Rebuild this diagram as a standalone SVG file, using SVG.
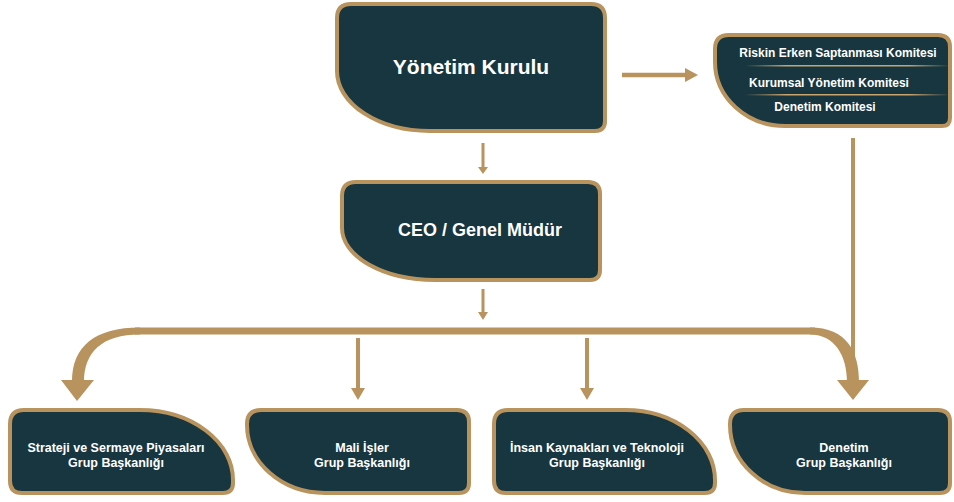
<svg xmlns="http://www.w3.org/2000/svg" width="954" height="502" viewBox="0 0 954 502">
<defs>
<style>
.box{fill:#17363F;stroke:#B8935E;stroke-width:4;stroke-linejoin:round}
.t{fill:#FFFFFF;font-family:"Liberation Sans",Arial,sans-serif;font-weight:bold;text-anchor:middle}
.c{stroke:#B8935E;fill:none;stroke-linecap:butt}
.h{fill:#B8935E}
</style>
<linearGradient id="sep" gradientUnits="userSpaceOnUse" x1="745" y1="0" x2="950" y2="0">
<stop offset="0" stop-color="#C9A46E" stop-opacity="0"/>
<stop offset="0.2" stop-color="#C9A46E"/>
<stop offset="0.8" stop-color="#C9A46E"/>
<stop offset="1" stop-color="#C9A46E" stop-opacity="0"/>
</linearGradient>
</defs>
<rect width="954" height="502" fill="#FFFFFF"/>

<g id="connectors">
<line class="c" x1="622" y1="75" x2="688" y2="75" stroke-width="4.5"/>
<polygon class="h" points="685,68 698,75 685,82"/>
<line class="c" x1="483" y1="143" x2="483" y2="169" stroke-width="3"/>
<polygon class="h" points="478,167 488,167 483,174"/>
<line class="c" x1="483" y1="289" x2="483" y2="314" stroke-width="3"/>
<polygon class="h" points="478,312 488,312 483,320"/>
<path class="c" d="M 135 331 H 815" stroke-width="7"/>
<path class="h" d="M 140 327.5 C 95 327.5 72 346 72 382 L 84 382 C 84 352 102 334.5 140 334.5 Z"/>
<path class="h" d="M 810 327.5 C 847 327.5 859 352 859 382 L 847 382 C 847 356 835 334.5 810 334.5 Z"/>
<polygon class="h" points="61,380 94,380 77,401"/>
<polygon class="h" points="837,380 869,380 853,400"/>
<line class="c" x1="853" y1="138" x2="853" y2="372" stroke-width="4"/>
<line class="c" x1="358" y1="338" x2="358" y2="390" stroke-width="4"/>
<polygon class="h" points="351,388 365,388 358,400"/>
<line class="c" x1="587" y1="338" x2="587" y2="390" stroke-width="4"/>
<polygon class="h" points="580,388 594,388 587,400"/>
</g>

<g id="yonetim-kurulu">
<path class="box" d="M 351 4 H 591 Q 605 4 605 18 V 121 Q 605 131 595 131 H 430 A 93 60 0 0 1 337 71 V 18 Q 337 4 351 4 Z"/>
<text class="t" x="471" y="74" font-size="21">Yönetim Kurulu</text>
</g>

<g id="komiteler">
<path class="box" d="M 729 35 H 938 Q 950 35 950 47 V 118 Q 950 126 942 126 H 785 A 70 64 0 0 1 715 62 V 49 Q 715 35 729 35 Z"/>
<rect x="745" y="65" width="205" height="1.5" fill="url(#sep)"/>
<rect x="745" y="94" width="205" height="1.5" fill="url(#sep)"/>
<text class="t" x="838" y="57" font-size="12">Riskin Erken Saptanması Komitesi</text>
<text class="t" x="829" y="87" font-size="12">Kurumsal Yönetim Komitesi</text>
<text class="t" x="825" y="111" font-size="12">Denetim Komitesi</text>
</g>

<g id="ceo">
<path class="box" d="M 356 182 H 588 Q 600 182 600 194 V 270 Q 600 280 590 280 H 435 A 93 52 0 0 1 342 228 V 196 Q 342 182 356 182 Z"/>
<text class="t" x="480" y="236" font-size="18">CEO / Genel Müdür</text>
</g>

<g id="strateji">
<path class="box" d="M 10 424 Q 10 410 24 410 H 140 A 93 70 0 0 1 233 480 V 483 Q 233 493 223 493 H 22 Q 10 493 10 481 Z"/>
<text class="t" x="116" y="452" font-size="12.5">Strateji ve Sermaye Piyasaları</text>
<text class="t" x="116" y="467" font-size="12.5">Grup Başkanlığı</text>
</g>

<g id="mali-isler">
<path class="box" d="M 261 410 H 457 Q 469 410 469 422 V 483 Q 469 493 459 493 H 325 A 78 68 0 0 1 247 425 V 424 Q 247 410 261 410 Z"/>
<text class="t" x="362" y="452" font-size="12.5">Mali İşler</text>
<text class="t" x="362" y="467" font-size="12.5">Grup Başkanlığı</text>
</g>

<g id="insan-kaynaklari">
<path class="box" d="M 494 424 Q 494 410 508 410 H 625 A 90 70 0 0 1 715 480 V 483 Q 715 493 705 493 H 506 Q 494 493 494 481 Z"/>
<text class="t" x="597" y="452" font-size="12.5">İnsan Kaynakları ve Teknoloji</text>
<text class="t" x="597" y="467" font-size="12.5">Grup Başkanlığı</text>
</g>

<g id="denetim">
<path class="box" d="M 744 410 H 938 Q 950 410 950 422 V 483 Q 950 493 940 493 H 805 A 75 68 0 0 1 730 425 V 424 Q 730 410 744 410 Z"/>
<text class="t" x="844" y="452" font-size="12.5">Denetim</text>
<text class="t" x="844" y="467" font-size="12.5">Grup Başkanlığı</text>
</g>
</svg>
